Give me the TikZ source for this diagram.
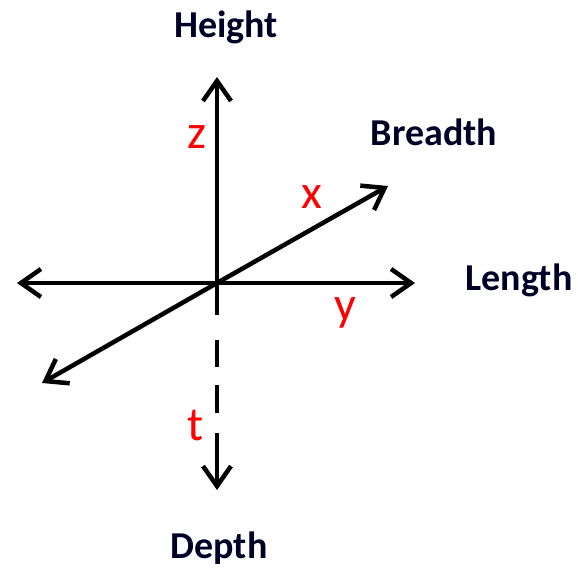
\documentclass[tikz,border=0pt]{standalone}
\usepackage{fontspec}
\setmainfont{Carlito}
\usepackage{xcolor}
\usetikzlibrary{arrows.meta,positioning}

\begin{document}
\begin{tikzpicture}[
    x=1pt, y=-1pt,
    axis/.style={-{Straight Barb[length=20pt, width=28pt, line width=4.5pt]}, line width=4.5pt, black},
    dimname/.style={anchor=base, font=\fontsize{38}{42}\selectfont\bfseries, text=black!85!blue},
    letter/.style={anchor=base, font=\fontsize{48}{52}\selectfont, text=red}
]
    \useasboundingbox (0,0) rectangle (578,568);

    % origin and arrow tips
    \coordinate (O)      at (217,283);
    \coordinate (up)     at (217,77);
    \coordinate (down)   at (217,490);
    \coordinate (left)   at (17,283);
    \coordinate (right)  at (415,283);
    \coordinate (fwd)    at (388,186);
    \coordinate (back)   at (42,383);

    % axes
    \draw[axis] (O) -- (up);
    \draw[axis] (O) -- (left);
    \draw[axis] (O) -- (right);
    \draw[axis] (O) -- (fwd);
    \draw[axis] (O) -- (back);
    \draw[axis, dash pattern=on 32pt off 25pt on 27pt off 18pt on 28pt off 20pt on 100pt] (O) -- (down);

    % dimension names
    \node[dimname] (height)  at (226,37)  {Height};
    \node[dimname] (breadth) at (434,145) {Breadth};
    \node[dimname] (length)  at (519,290) {Length};
    \node[dimname] (depth)   at (219,558) {Depth};

    % axis letters
    \node[letter] (z) at (197,148) {z};
    \node[letter] (x) at (312,208) {x};
    \node[letter] (y) at (345,320) {y};
    \node[letter] (t) at (196,440) {t};
\end{tikzpicture}
\end{document}
